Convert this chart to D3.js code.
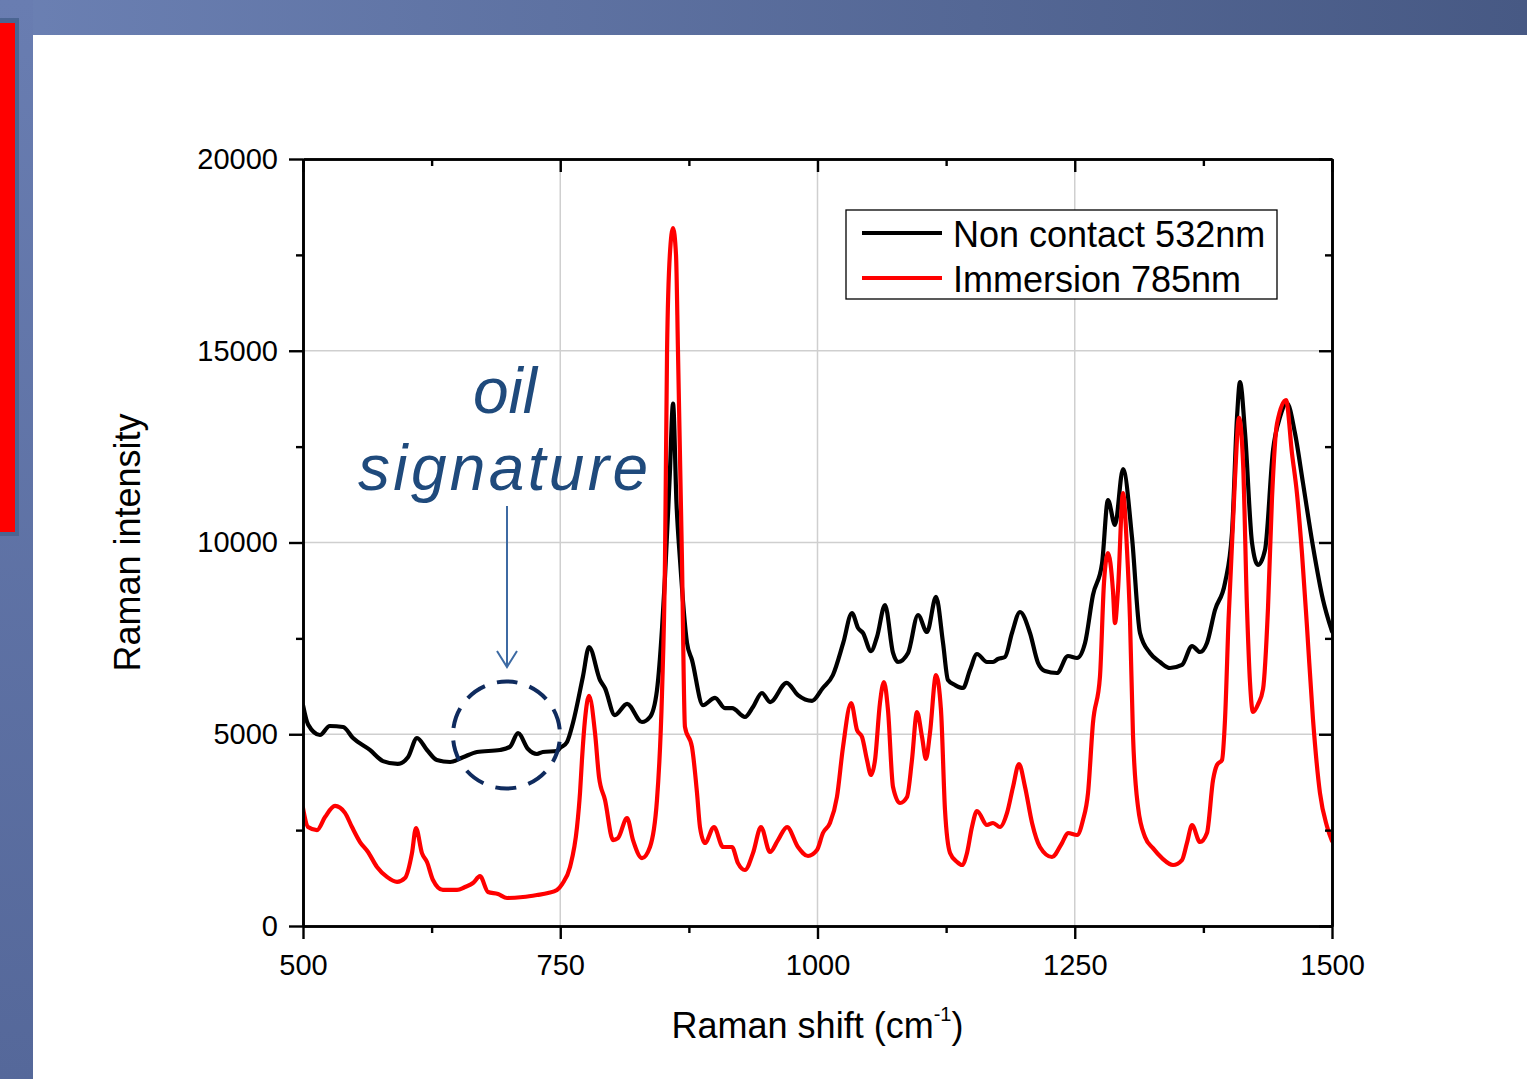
<!DOCTYPE html>
<html><head><meta charset="utf-8">
<script src="https://cdn.jsdelivr.net/npm/d3@7"></script>
<style>html,body{margin:0;padding:0;background:#fff;overflow:hidden}
text{font-family:"Liberation Sans",Arial,sans-serif}</style>
</head><body>
<svg id="c" width="1527" height="1079"></svg>
<script>
// ---- data ----
const seriesNames = ["Non contact 532nm", "Immersion 785nm"];
const seriesColors = ["#000000", "#ff0000"];

const shift532 = [500,505,516.5,526,539,548.6,565,577.7,592,602,610.8,620.5,630,643,655.5,669,691.4,701,709,718.7,727.4,733,747,749.8,756.6,762.4,772,778,788.6,793.5,803,815,829.4,837.2,844,849,851.8,856.5,859.6,863,866.4,873.2,878,888.7,900.4,910,917,929.5,937.3,946,954,970,981,994.7,1005,1015,1025,1033.5,1039.4,1044.2,1052,1057.8,1065.6,1073.4,1078.2,1088,1097.7,1106.4,1115.2,1122,1126.8,1133.6,1141.4,1148.2,1155,1164.7,1170.6,1175.4,1182.2,1189,1196.8,1206.5,1214.3,1221,1232.7,1243.4,1252.2,1260,1267.7,1276.5,1282.3,1289.1,1296.9,1305.6,1313.4,1323.1,1332.8,1342.6,1354.2,1364,1371.7,1378.5,1386.3,1396,1402.8,1407.7,1410.6,1415.5,1422.3,1428.1,1434.9,1442.7,1449.5,1456.3,1464,1471.8,1481.5,1491.3,1500];
const int532 = [5760,5250,4980,5215,5190,4900,4590,4300,4225,4400,4900,4590,4330,4276,4400,4537,4590,4670,5030,4615,4485,4537,4563,4640,4800,5300,6500,7275,6415,6200,5500,5790,5320,5450,6150,7800,9100,11800,13620,11000,9540,7380,6940,5760,5950,5680,5680,5450,5710,6075,5840,6340,6020,5870,6200,6545,7380,8162,7770,7640,7170,7536,8370,7120,6884,7120,8110,7666,8580,7380,6415,6284,6206,6675,7093,6884,6884,6962,7014,7640,8188,7640,6858,6650,6597,7040,6988,7380,8630,9450,11108,10456,11916,10143,7640,7118,6884,6727,6806,7300,7145,7380,8240,8944,10248,13272,14185,12855,9987,9413,9804,12412,13272,13637,12855,11551,9900,8500,7680];

const shift785 = [500,504.9,513.6,521.4,531.1,540.8,547.6,555.4,563.2,571.9,581.6,591.4,599.1,605.9,609.8,615.6,620.5,626.3,636,649.7,657.4,665.2,672,679.8,689.5,698.3,713.8,727.4,738.1,746.8,752,759.5,766.3,769.2,771.1,774,778,783.8,787.7,793.5,801.3,806.1,814.9,820.7,829.4,837.2,844,848.9,851.8,853.8,856.5,859.6,862.5,864.4,868.3,871.2,878,882.9,885.8,890.6,899.4,908.2,916.9,922.7,929.5,937.3,945.1,953.8,961.6,970.4,981,990.8,999.5,1005.3,1012.1,1018.9,1024.8,1032.7,1038.4,1043.3,1048.1,1052,1055.9,1060.7,1064.6,1068.5,1073.4,1080.2,1087,1091.8,1096.7,1101.6,1105.4,1109.3,1115.2,1120,1123.9,1128.8,1135.6,1140.4,1145.3,1150.1,1155,1164.7,1170.6,1177.4,1184.2,1190,1195.8,1201.7,1208.5,1216.2,1227.9,1237.6,1243.4,1252.2,1258,1262.9,1267.7,1274.5,1278.4,1282.3,1287.1,1289.1,1292,1296.9,1300.8,1303.7,1306.6,1311.5,1318.3,1326,1334.8,1345.5,1354.2,1359,1364,1371.7,1378.5,1384.4,1388.2,1393.1,1396,1399.5,1405.7,1409.6,1413.5,1417.4,1420.3,1423.2,1428.1,1433,1437.8,1441.7,1446.5,1455.3,1461.1,1466,1470.8,1475.7,1481.5,1488.3,1495.1,1500];
const int785 = [3077,2580,2500,2840,3130,2950,2580,2190,1930,1540,1280,1150,1250,1900,2555,1900,1670,1200,940,940,1017,1120,1300,887,834,730,756,808,860,940,1100,1540,2580,3470,4330,5370,6000,5030,3880,3285,2240,2290,2815,2240,1770,2060,3285,6075,9540,15000,17500,18200,17500,15000,9540,5190,4670,3470,2580,2165,2580,2060,2060,1640,1460,1900,2580,1930,2240,2580,2060,1825,1980,2425,2686,3364,4668,5815,5111,4928,4329,3937,4329,5815,6362,5632,3624,3207,3364,4329,5580,4928,4355,5033,6545,5632,3025,1904,1669,1591,1904,2581,2999,2634,2686,2581,2947,3624,4224,3624,2686,2060,1799,2164,2425,2373,2764,3468,5293,6500,8944,9726,8760,7900,8760,11290,9800,7980,4980,3100,2320,2030,1770,1590,1720,2160,2630,2190,2425,3810,4200,4330,5370,8000,11650,13250,12120,8290,6360,5580,5780,6180,8290,11160,13090,13715,12330,11265,9726,7800,5400,3470,2600,2216];

const xMajor = [500, 750, 1000, 1250, 1500];
const xMinor = [625, 875, 1125, 1375];
const yMajor = [0, 5000, 10000, 15000, 20000];
const yMinor = [2500, 7500, 12500, 17500];
const xTitle = "Raman shift (cm", xTitleSup = "-1", xTitleEnd = ")";
const yTitle = "Raman intensity";
const noteLines = ["oil", "signature"];

// ---- drawing ----
const svg = d3.select("#c");
const W = 1527, H = 1079;
const L = 303, R = 1332, T = 159, B = 926;

const defs = svg.append("defs");
const gTop = defs.append("linearGradient").attr("id","gtop").attr("x1","0").attr("x2","1").attr("y1","0").attr("y2","0");
gTop.append("stop").attr("offset","0").attr("stop-color","#6b80b3");
gTop.append("stop").attr("offset","1").attr("stop-color","#475984");
const gLeft = defs.append("linearGradient").attr("id","gleft").attr("x1","0").attr("x2","0").attr("y1","0").attr("y2","1");
gLeft.append("stop").attr("offset","0").attr("stop-color","#697db1");
gLeft.append("stop").attr("offset","1").attr("stop-color","#55689a");
defs.append("clipPath").attr("id","plotclip").append("rect")
  .attr("x", L).attr("y", T - 10).attr("width", R - L).attr("height", B - T + 10);

svg.append("rect").attr("width", W).attr("height", H).attr("fill", "#fff");
svg.append("rect").attr("x",0).attr("y",0).attr("width",W).attr("height",35).attr("fill","url(#gtop)");
svg.append("rect").attr("x",0).attr("y",0).attr("width",33).attr("height",H).attr("fill","url(#gleft)");
svg.append("rect").attr("x",-4).attr("y",18).attr("width",23).attr("height",518).attr("fill","#4b6592");
svg.append("rect").attr("x",0).attr("y",23).attr("width",15).attr("height",509).attr("fill","#ff0000");

const x = d3.scaleLinear().domain([500, 1500]).range([L, R]);
const y = d3.scaleLinear().domain([0, 20000]).range([B, T]);

// grid
const grid = svg.append("g").attr("stroke", "#cfcfcf").attr("stroke-width", 1.5);
grid.selectAll("line.gx").data(xMajor.slice(1, -1)).join("line")
  .attr("x1", d => x(d)).attr("x2", d => x(d)).attr("y1", T).attr("y2", B);
grid.selectAll("line.gy").data(yMajor.slice(1, -1)).join("line")
  .attr("y1", d => y(d)).attr("y2", d => y(d)).attr("x1", L).attr("x2", R);

// curves
const line = d3.line().x(d => x(d[0])).y(d => y(d[1])).curve(d3.curveMonotoneX);
const series = [
  d3.zip(shift532, int532),
  d3.zip(shift785, int785)
];
const cg = svg.append("g").attr("clip-path", "url(#plotclip)");
series.forEach((s, i) => {
  cg.append("path").datum(s).attr("d", line).attr("fill", "none")
    .attr("stroke", seriesColors[i]).attr("stroke-width", 4.2)
    .attr("stroke-linejoin", "round").attr("stroke-linecap", "round");
});

// axes
function styleAxis(g) {
  g.selectAll("path.domain").attr("stroke", "#000").attr("stroke-width", 2.6);
  g.selectAll(".tick line").attr("stroke", "#000").attr("stroke-width", 2.4);
  g.selectAll(".tick text").attr("fill", "#000").attr("font-size", 29)
    .attr("font-family", '"Liberation Sans", Arial, sans-serif');
}
svg.append("g").attr("transform", `translate(0,${B})`)
  .call(d3.axisBottom(x).tickValues(xMajor).tickFormat(d3.format("d")).tickSize(13).tickSizeOuter(0).tickPadding(15))
  .call(styleAxis);
svg.append("g").attr("transform", `translate(0,${B})`)
  .call(d3.axisBottom(x).tickValues(xMinor).tickFormat("").tickSize(7).tickSizeOuter(0))
  .call(styleAxis);
svg.append("g").attr("transform", `translate(0,${T})`)
  .call(d3.axisTop(x).tickValues(xMajor).tickFormat("").tickSize(-13).tickSizeOuter(0))
  .call(styleAxis);
svg.append("g").attr("transform", `translate(0,${T})`)
  .call(d3.axisTop(x).tickValues(xMinor).tickFormat("").tickSize(-7).tickSizeOuter(0))
  .call(styleAxis);
svg.append("g").attr("transform", `translate(${L},0)`)
  .call(d3.axisLeft(y).tickValues(yMajor).tickFormat(d3.format("d")).tickSize(14).tickSizeOuter(0).tickPadding(11))
  .call(styleAxis);
svg.append("g").attr("transform", `translate(${L},0)`)
  .call(d3.axisLeft(y).tickValues(yMinor).tickFormat("").tickSize(7).tickSizeOuter(0))
  .call(styleAxis);
svg.append("g").attr("transform", `translate(${R},0)`)
  .call(d3.axisRight(y).tickValues(yMajor).tickFormat("").tickSize(-13).tickSizeOuter(0))
  .call(styleAxis);
svg.append("g").attr("transform", `translate(${R},0)`)
  .call(d3.axisRight(y).tickValues(yMinor).tickFormat("").tickSize(-7).tickSizeOuter(0))
  .call(styleAxis);

// axis titles
const xt = svg.append("text").attr("x", (L + R) / 2).attr("y", 1038).attr("text-anchor", "middle")
  .attr("font-size", 36).attr("fill", "#000");
xt.append("tspan").text(xTitle);
xt.append("tspan").attr("dy", -17).attr("font-size", 20).text(xTitleSup);
xt.append("tspan").attr("dy", 17).text(xTitleEnd);
svg.append("text").attr("transform", `translate(140,${(T + B) / 2}) rotate(-90)`)
  .attr("text-anchor", "middle").attr("font-size", 36).attr("fill", "#000").text(yTitle);

// legend
const lg = svg.append("g");
lg.append("rect").attr("x", 846).attr("y", 210).attr("width", 431).attr("height", 89)
  .attr("fill", "#fff").attr("stroke", "#000").attr("stroke-width", 1.3);
seriesNames.forEach((n, i) => {
  const yy = 233 + i * 45;
  lg.append("line").attr("x1", 862).attr("x2", 942).attr("y1", yy).attr("y2", yy)
    .attr("stroke", seriesColors[i]).attr("stroke-width", 4);
  lg.append("text").attr("x", 953).attr("y", yy + 14).attr("font-size", 36).attr("fill", "#000").text(n);
});

// annotation
const noteColor = "#1f4a7c";
svg.append("text").attr("x", 505).attr("y", 413).attr("text-anchor", "middle")
  .attr("font-family", '"Open Sans", sans-serif').attr("font-style", "italic").attr("font-weight", 400)
  .attr("font-size", 64).attr("fill", noteColor).text(noteLines[0]);
svg.append("text").attr("x", 358).attr("y", 490)
  .attr("font-family", '"Open Sans", sans-serif').attr("font-style", "italic").attr("font-weight", 400)
  .attr("font-size", 64).attr("fill", noteColor)
  .attr("textLength", 290).attr("lengthAdjust", "spacing").text(noteLines[1]);
svg.append("line").attr("x1", 507).attr("x2", 507).attr("y1", 506).attr("y2", 666)
  .attr("stroke", "#3d6aa3").attr("stroke-width", 2);
svg.append("polyline").attr("points", "497,651 507,667 517,651")
  .attr("fill", "none").attr("stroke", "#3d6aa3").attr("stroke-width", 2);
svg.append("circle").attr("cx", 506.5).attr("cy", 735).attr("r", 53.5)
  .attr("fill", "none").attr("stroke", "#0f2b5e").attr("stroke-width", 4)
  .attr("stroke-dasharray", "21 12.6").attr("stroke-dashoffset", 10)
  .attr("transform", "rotate(-90 506.5 735)");
</script>
</body></html>
